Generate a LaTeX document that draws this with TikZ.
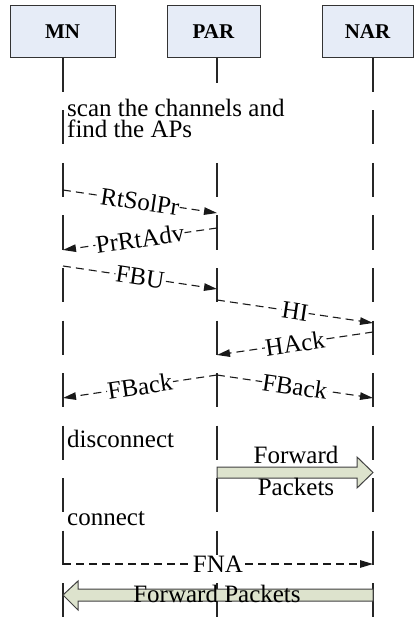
\documentclass[tikz,border=0pt]{standalone}
\usepackage{fontspec}
\setmainfont{Liberation Serif}
\usetikzlibrary{arrows.meta}
\definecolor{boxfill}{RGB}{230,236,247}
\definecolor{fatfill}{RGB}{221,227,205}
\begin{document}
\begin{tikzpicture}[x=1pt,y=-1pt,
  actor/.style={draw=black!80, fill=boxfill, line width=1pt, minimum height=52pt, inner sep=0pt,
    font=\fontsize{21}{25}\selectfont\bfseries},
  lifeline/.style={line width=1.5pt, draw=black!85, dash pattern=on 34pt off 18.5pt},
  msg/.style={line width=1.1pt, draw=black!90, dash pattern=on 8pt off 5pt,
    -{Triangle[length=13pt,width=7.5pt]}},
  mlabel/.style={sloped, fill=white, inner sep=0.5pt, font=\fontsize{25}{28}\selectfont},
  note/.style={inner sep=0pt, font=\fontsize{25}{21}\selectfont},
  fat/.style={draw=black!75, fill=fatfill, line width=1pt, line join=miter}
]
\useasboundingbox (0,0) rectangle (416,617);

% actors
\node[actor, minimum width=105pt] (MN) at (62.5,32) {MN};
\node[actor, minimum width=93pt] (PAR) at (213.5,32) {PAR};
\node[actor, minimum width=91pt] (NAR) at (367.5,32) {NAR};

% lifelines
\coordinate (mnT) at (63,58);   \coordinate (mnB) at (63,617);
\coordinate (parT) at (217,58); \coordinate (parB) at (217,617);
\coordinate (narT) at (373,58); \coordinate (narB) at (373,617);
\draw[lifeline] (mnT) -- (mnB);
\draw[lifeline] (parT) -- (parB);
\draw[lifeline] (narT) -- (narB);

% notes
\node[note, anchor=north west, fill=white, inner xsep=2pt, inner ysep=16pt, align=left]
  (scan) at (65,83) {scan the channels and\\find the APs};
\node[note, anchor=base west] (disc) at (67,447) {disconnect};
\node[note, anchor=base west] (conn) at (67,525) {connect};

% message end points
\coordinate (m1a) at (63,190);  \coordinate (m1b) at (217,213);
\coordinate (m2a) at (217,228); \coordinate (m2b) at (63,250);
\coordinate (m3a) at (63,266);  \coordinate (m3b) at (217,289);
\coordinate (m4a) at (217,300); \coordinate (m4b) at (373,323);
\coordinate (m5a) at (373,332); \coordinate (m5b) at (217,355);
\coordinate (m6a) at (217,375); \coordinate (m6b) at (63,398);
\coordinate (m7b) at (373,398);
\coordinate (m8a) at (63,564);  \coordinate (m8b) at (373,564);

\draw[msg] (m1a) -- node[mlabel] {RtSolPr} (m1b);
\draw[msg] (m2a) -- node[mlabel] {PrRtAdv} (m2b);
\draw[msg] (m3a) -- node[mlabel] {FBU} (m3b);
\draw[msg] (m4a) -- node[mlabel] {HI} (m4b);
\draw[msg] (m5a) -- node[mlabel] {HAck} (m5b);
\draw[msg] (m6a) -- node[mlabel] {FBack} (m6b);
\draw[msg] (m6a) -- node[mlabel] {FBack} (m7b);
\draw[msg] (m8a) -- node[mlabel] {FNA} (m8b);

% forward packets PAR -> NAR
\draw[fat] (217,467) -- (357,467) -- (357,457) -- (373,472.5) -- (357,488) -- (357,478) -- (217,478) -- cycle;
\node[note, anchor=base] (fw1) at (296,463) {Forward};
\node[note, anchor=base] (fw2) at (296,495) {Packets};

% forward packets NAR -> MN
\draw[fat] (373,589) -- (78,589) -- (78,581) -- (63,595) -- (78,610) -- (78,601) -- (373,601) -- cycle;
\node[note, anchor=base] (fw3) at (217,602) {Forward Packets};
\end{tikzpicture}
\end{document}
